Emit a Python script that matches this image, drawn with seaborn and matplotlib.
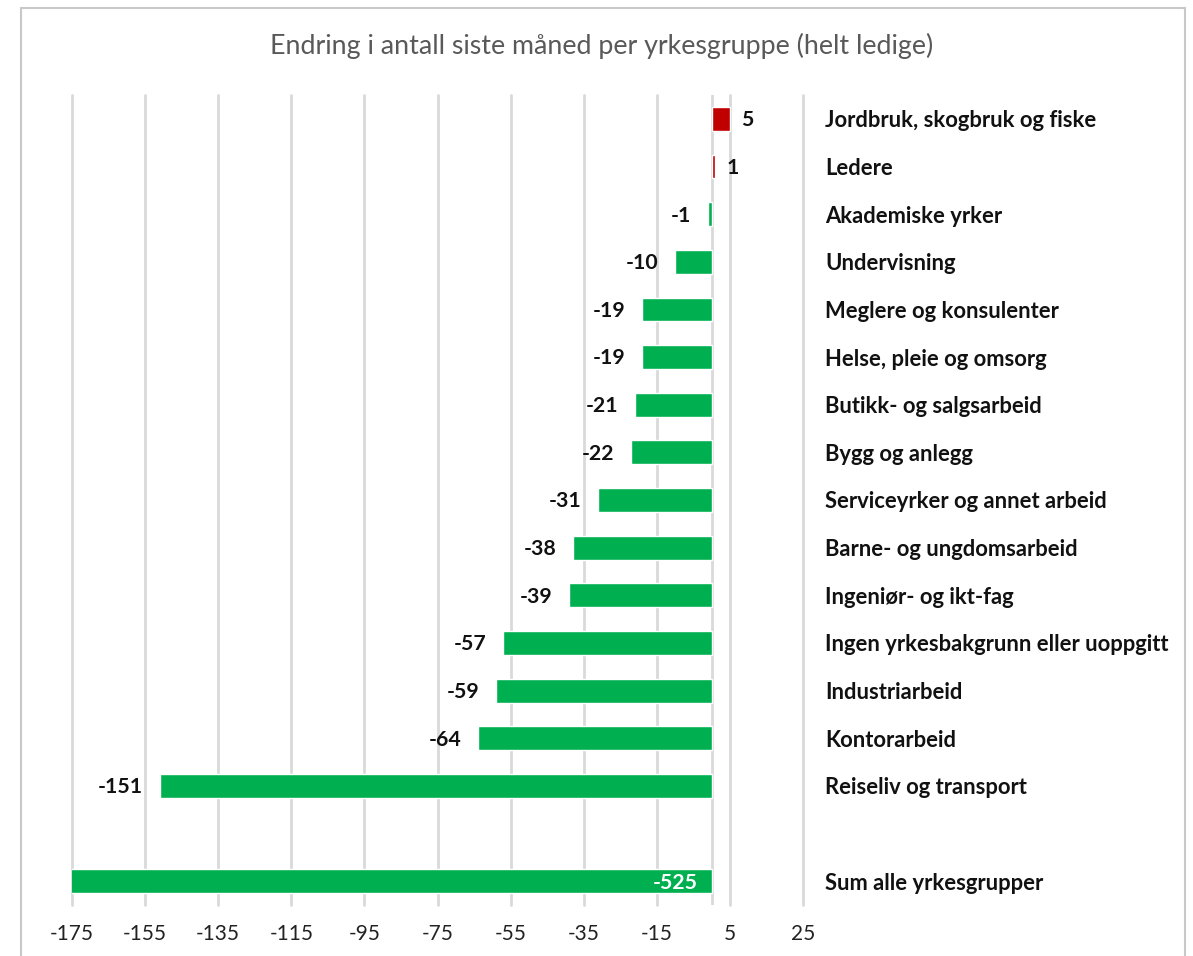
import matplotlib
matplotlib.use("Agg")
import matplotlib.pyplot as plt
from matplotlib.patches import Rectangle
import numpy as np
import pandas as pd
import seaborn as sns

# data
yrkesgrupper = [
    "Jordbruk, skogbruk og fiske",
    "Ledere",
    "Akademiske yrker",
    "Undervisning",
    "Meglere og konsulenter",
    "Helse, pleie og omsorg",
    "Butikk- og salgsarbeid",
    "Bygg og anlegg",
    "Serviceyrker og annet arbeid",
    "Barne- og ungdomsarbeid",
    "Ingeniør- og ikt-fag",
    "Ingen yrkesbakgrunn eller uoppgitt",
    "Industriarbeid",
    "Kontorarbeid",
    "Reiseliv og transport",
    "Sum alle yrkesgrupper",
]
endring = [5, 1, -1, -10, -19, -19, -21, -22, -31, -38, -39, -57, -59, -64, -151, -525]
x_ticks = list(range(-175, 26, 20))
title = "Endring i antall siste måned per yrkesgruppe (helt ledige)"

# blank slot between the groups and the total
order = yrkesgrupper[:-1] + [""] + yrkesgrupper[-1:]

df = pd.DataFrame({"gruppe": yrkesgrupper, "endring": endring})
df["retning"] = np.where(df["endring"] > 0, "opp", "ned")

sns.set_style("white")
plt.rcParams["font.family"] = ["Lato", "DejaVu Sans"]

W, H = 1193, 956
fig = plt.figure(figsize=(W / 100, H / 100), dpi=100)
ax = fig.add_axes([72 / W, 1 - 905 / H, (803 - 72) / W, (905 - 95) / H])

sns.barplot(ax=ax, data=df, x="endring", y="gruppe", hue="retning", order=order,
            palette={"opp": "#C00000", "ned": "#00B050"}, width=0.5,
            saturation=1, legend=False, errorbar=None, zorder=3)

ax.set_xlim(-175, 25)
ax.set_ylim(16.5, -0.5)
ax.set_xticks(x_ticks)
ax.set_xticklabels([str(t) for t in x_ticks], fontsize=15, color="#222222")
ax.tick_params(axis="x", length=0, pad=14)
ax.grid(axis="x", color="#d9d9d9", lw=2)
for gl in ax.get_xgridlines():
    gl.set_clip_on(False)
ax.axvline(0, color="#d9d9d9", lw=2, zorder=2)
ax.set_axisbelow(True)
for s in ax.spines.values():
    s.set_visible(False)

ax.yaxis.tick_right()
ax.tick_params(axis="y", length=0, pad=16)
ax.set_yticks(range(len(order)))
ax.set_yticklabels(order, fontsize=15.8, fontweight="bold", color="#111111")
ax.set_xlabel("")
ax.set_ylabel("")

# value labels
lbl = dict(va="center", fontsize=15.3, fontweight="bold", textcoords="offset points")
for i, g in enumerate(order):
    if g == "":
        continue
    v = df.loc[df["gruppe"] == g, "endring"].iloc[0]
    if v < -175:
        ax.annotate(str(v), (0, i), xytext=(-10, -1), ha="right", color="white",
                    zorder=5, **lbl)
    elif v > 0:
        ax.annotate(str(v), (v, i), xytext=(8, -1), ha="left", color="#111111", **lbl)
    else:
        ax.annotate(str(v), (v, i), xytext=(-12, -1), ha="right", color="#111111", **lbl)

fig.text(602 / W, 1 - 46 / H, title, ha="center", va="center",
         fontsize=19.3, color="#595959")

fig.patches.append(Rectangle((21 / W, -0.02), (1185 - 21) / W, 1.02 - 8 / H,
                             transform=fig.transFigure, fill=False,
                             ec="#c8c8c8", lw=1.5))

fig.savefig("out.png", dpi=100, facecolor="white")
